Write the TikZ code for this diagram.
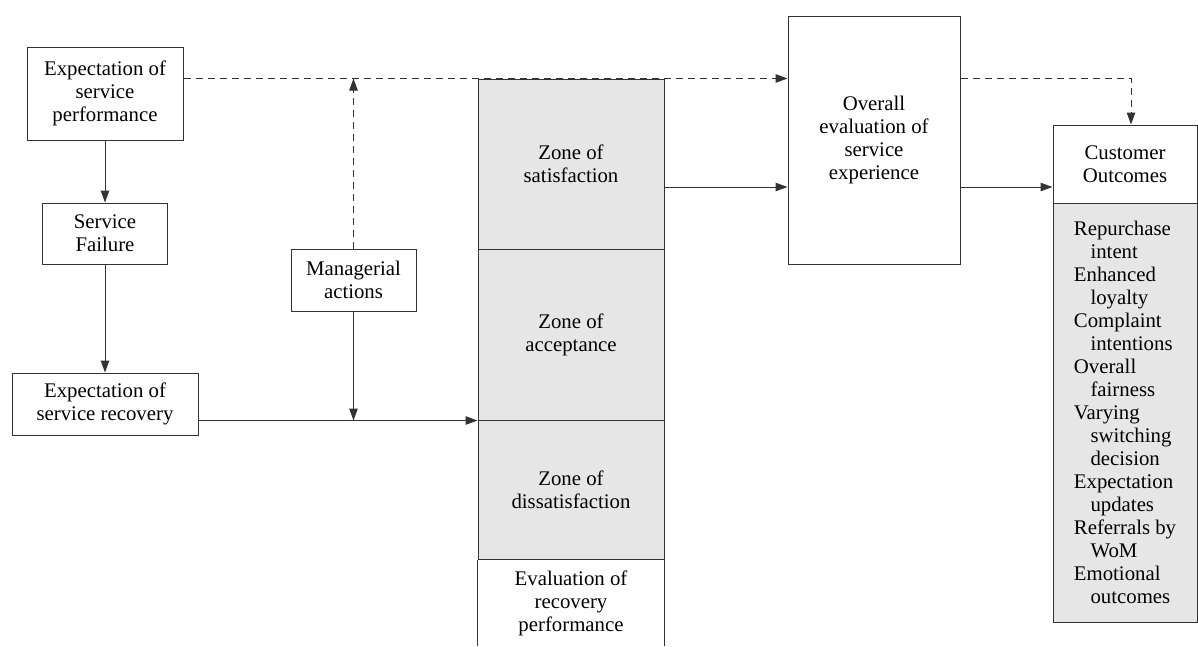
\documentclass[tikz,border=0pt]{standalone}
\usepackage{fontspec}
\setmainfont{Liberation Serif}
\usetikzlibrary{arrows.meta,positioning}
\definecolor{zonegray}{HTML}{E6E6E6}
\definecolor{linegray}{HTML}{333333}
\newcommand{\indline}{\hspace*{0.8em}}
\begin{document}
\begin{tikzpicture}[x=1pt, y=-1pt, >={Stealth[length=12pt,width=8.5pt,inset=0pt]}, line width=1pt]

    \tikzset{%
    every box/.style={
        draw=linegray,
        align=center,
        inner sep=2pt,
        font=\fontsize{20.8}{23}\selectfont
        },
    zone box/.style={
        every box,
        fill=zonegray,
        minimum width=186pt
        },
    dash line/.style={
        dashed,
        dash pattern=on 7pt off 5pt
        },
    }

    \useasboundingbox (0,0) rectangle (1198,646);
    \coordinate (bottom) at (0,646);

    % Left chain of expectation boxes
    \node [every box, minimum width=156pt, minimum height=93pt] (perf) at (105,93.5) {Expectation of\\service\\performance};
    \node [every box, minimum width=125pt, minimum height=61pt] (fail) at (105,233.5) {Service\\Failure};
    \node [every box, minimum width=186pt, minimum height=62pt] (rec) at (105,404) {Expectation of\\service recovery};
    \node [every box, minimum width=125pt, minimum height=62pt] (mgr) at (353.5,280) {Managerial\\actions};

    % Zone column
    \foreach \n/\t/\y/\h in {sat/{Zone of\\satisfaction}/164/170,
                             acc/{Zone of\\acceptance}/334.5/171,
                             dis/{Zone of\\dissatisfaction}/489.5/139}
    \node [zone box, minimum height=\h pt] (\n) at (571,\y) {\t};
    \node [every box, draw=none, minimum width=186pt] (eval) at (571,603) {Evaluation of\\recovery\\performance};
    \draw [linegray] (dis.south west) -- (dis.south west |- bottom);
    \draw [linegray] (dis.south east) -- (dis.south east |- bottom);

    % Overall evaluation and outcomes
    \node [every box, minimum width=172pt, minimum height=248pt] (over) at (874,140) {Overall\\evaluation of\\service\\experience};
    \node [every box, minimum width=144pt, minimum height=78pt] (cust) at (1125,164) {Customer\\Outcomes};
    \node [every box, fill=zonegray, align=left, minimum width=144pt, minimum height=419pt] (list) at (1125,412.5)
        {Repurchase\\\indline intent\\Enhanced\\\indline loyalty\\Complaint\\\indline intentions\\Overall\\\indline fairness\\Varying\\\indline switching\\\indline decision\\Expectation\\\indline updates\\Referrals by\\\indline WoM\\Emotional\\\indline outcomes};

    % Solid arrows
    \draw [->, linegray] (perf.south) -- (fail.north);
    \draw [->, linegray] (fail.south) -- (rec.north);
    \draw [->, linegray] (rec.east |- acc.south) -- (acc.south west);
    \draw [->, linegray] (mgr.south) -- (mgr.south |- acc.south);
    \coordinate (mid) at ([yshift=-23pt]sat.east);
    \draw [->, linegray] (mid) -- (over.west |- mid);
    \draw [->, linegray] (over.east |- mid) -- (cust.west |- mid);

    % Dashed arrows
    \draw [->, linegray, dash line] (perf.east |- sat.north) -- (over.west |- sat.north);
    \draw [->, linegray, dash line] (mgr.north) -- (mgr.north |- sat.north);
    \draw [->, linegray, dash line] (over.east |- sat.north) -| ([xshift=6pt]cust.north);

\end{tikzpicture}
\end{document}
